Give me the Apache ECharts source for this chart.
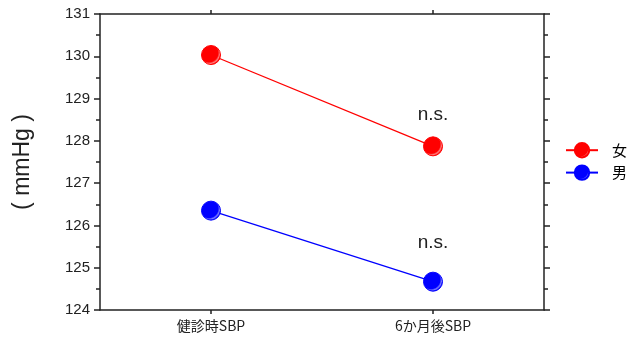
<!DOCTYPE html>
<html><head><meta charset="utf-8">
<script src="https://cdn.jsdelivr.net/npm/echarts@6/dist/echarts.min.js"></script>
<style>html,body{margin:0;padding:0;background:#fff}#c{width:629px;height:340px}</style>
</head><body><div id="c"></div>
<script>
const categories = ['健診時SBP', '6か月後SBP'];
const femaleValues = [130.03, 127.87];
const maleValues = [126.35, 124.67];
const seriesNames = ['女', '男'];
const nsLabels = ['n.s.', 'n.s.'];
const nsPositions = [128.62, 125.58];

const font = '"Liberation Sans Narrow", "Liberation Sans", "Noto Sans CJK JP", sans-serif';
const chart = echarts.init(document.getElementById('c'));
function glossy(c) {
  return {
    type: 'radial', x: 0.4, y: 0.4, r: 0.6,
    colorStops: [{offset: 0, color: c}, {offset: 0.75, color: c}, {offset: 0.88, color: c === 'red' ? '#ff8080' : '#8080ff'}, {offset: 1, color: c}]
  };
}
const axisLine = {show: true, lineStyle: {color: '#222', width: 1.5}};
chart.setOption({
  animation: false,
  grid: {left: 100, right: 85, top: 14, bottom: 30},
  legend: {
    orient: 'vertical', left: 565, top: 142, padding: 0, itemWidth: 32, itemHeight: 18, itemGap: 6,
    textStyle: {fontFamily: '"Noto Sans CJK JP", sans-serif', fontSize: 15, color: '#000', padding: [0, 0, 0, 9]},
    data: seriesNames
  },
  xAxis: [{
    type: 'category', data: categories, boundaryGap: true, position: 'bottom',
    axisLine: axisLine, axisTick: {show: true, alignWithLabel: true, length: 4, lineStyle: {color: '#222', width: 1.5}},
    axisLabel: {fontFamily: '"Noto Sans CJK JP", sans-serif', fontSize: 14, color: '#222', margin: 9},
    splitLine: {show: false}
  }, {
    type: 'category', data: categories, boundaryGap: true, position: 'top',
    axisLine: axisLine, axisTick: {show: true, alignWithLabel: true, inside: false, length: 4, lineStyle: {color: '#222', width: 1.5}},
    axisLabel: {show: false}, splitLine: {show: false}
  }],
  yAxis: [{
    type: 'value', min: 124, max: 131, interval: 1, position: 'left',
    name: '( mmHg )', nameLocation: 'middle', nameGap: 66, nameRotate: 90,
    nameTextStyle: {fontFamily: font, fontSize: 23, color: '#222'},
    axisLine: axisLine, axisTick: {show: true, length: 6, lineStyle: {color: '#222', width: 1.5}},
    minorTick: {show: true, splitNumber: 2, length: 4, lineStyle: {color: '#222', width: 1.5}},
    axisLabel: {fontFamily: font, fontSize: 15, color: '#222', margin: 10},
    splitLine: {show: false}
  }, {
    type: 'value', min: 124, max: 131, interval: 1, position: 'right',
    axisLine: axisLine, axisTick: {show: true, length: 6, lineStyle: {color: '#222', width: 1.5}},
    minorTick: {show: true, splitNumber: 2, length: 4, lineStyle: {color: '#222', width: 1.5}},
    axisLabel: {show: false}, splitLine: {show: false}
  }],
  series: [{
    name: seriesNames[0], type: 'line', data: femaleValues,
    symbol: 'circle', symbolSize: 19,
    lineStyle: {color: 'red', width: 1.3},
    itemStyle: {color: glossy('red'), borderColor: 'red', borderWidth: 1},
    markPoint: {
      symbol: 'circle', symbolSize: 0,
      label: {show: true, formatter: nsLabels[0], fontFamily: '"Liberation Sans", sans-serif', fontSize: 19, color: '#222'},
      data: [{coord: [1, nsPositions[0]]}]
    }
  }, {
    name: seriesNames[1], type: 'line', data: maleValues,
    symbol: 'circle', symbolSize: 19,
    lineStyle: {color: 'blue', width: 1.3},
    itemStyle: {color: glossy('blue'), borderColor: 'blue', borderWidth: 1},
    markPoint: {
      symbol: 'circle', symbolSize: 0,
      label: {show: true, formatter: nsLabels[1], fontFamily: '"Liberation Sans", sans-serif', fontSize: 19, color: '#222'},
      data: [{coord: [1, nsPositions[1]]}]
    }
  }]
});
</script></body></html>
